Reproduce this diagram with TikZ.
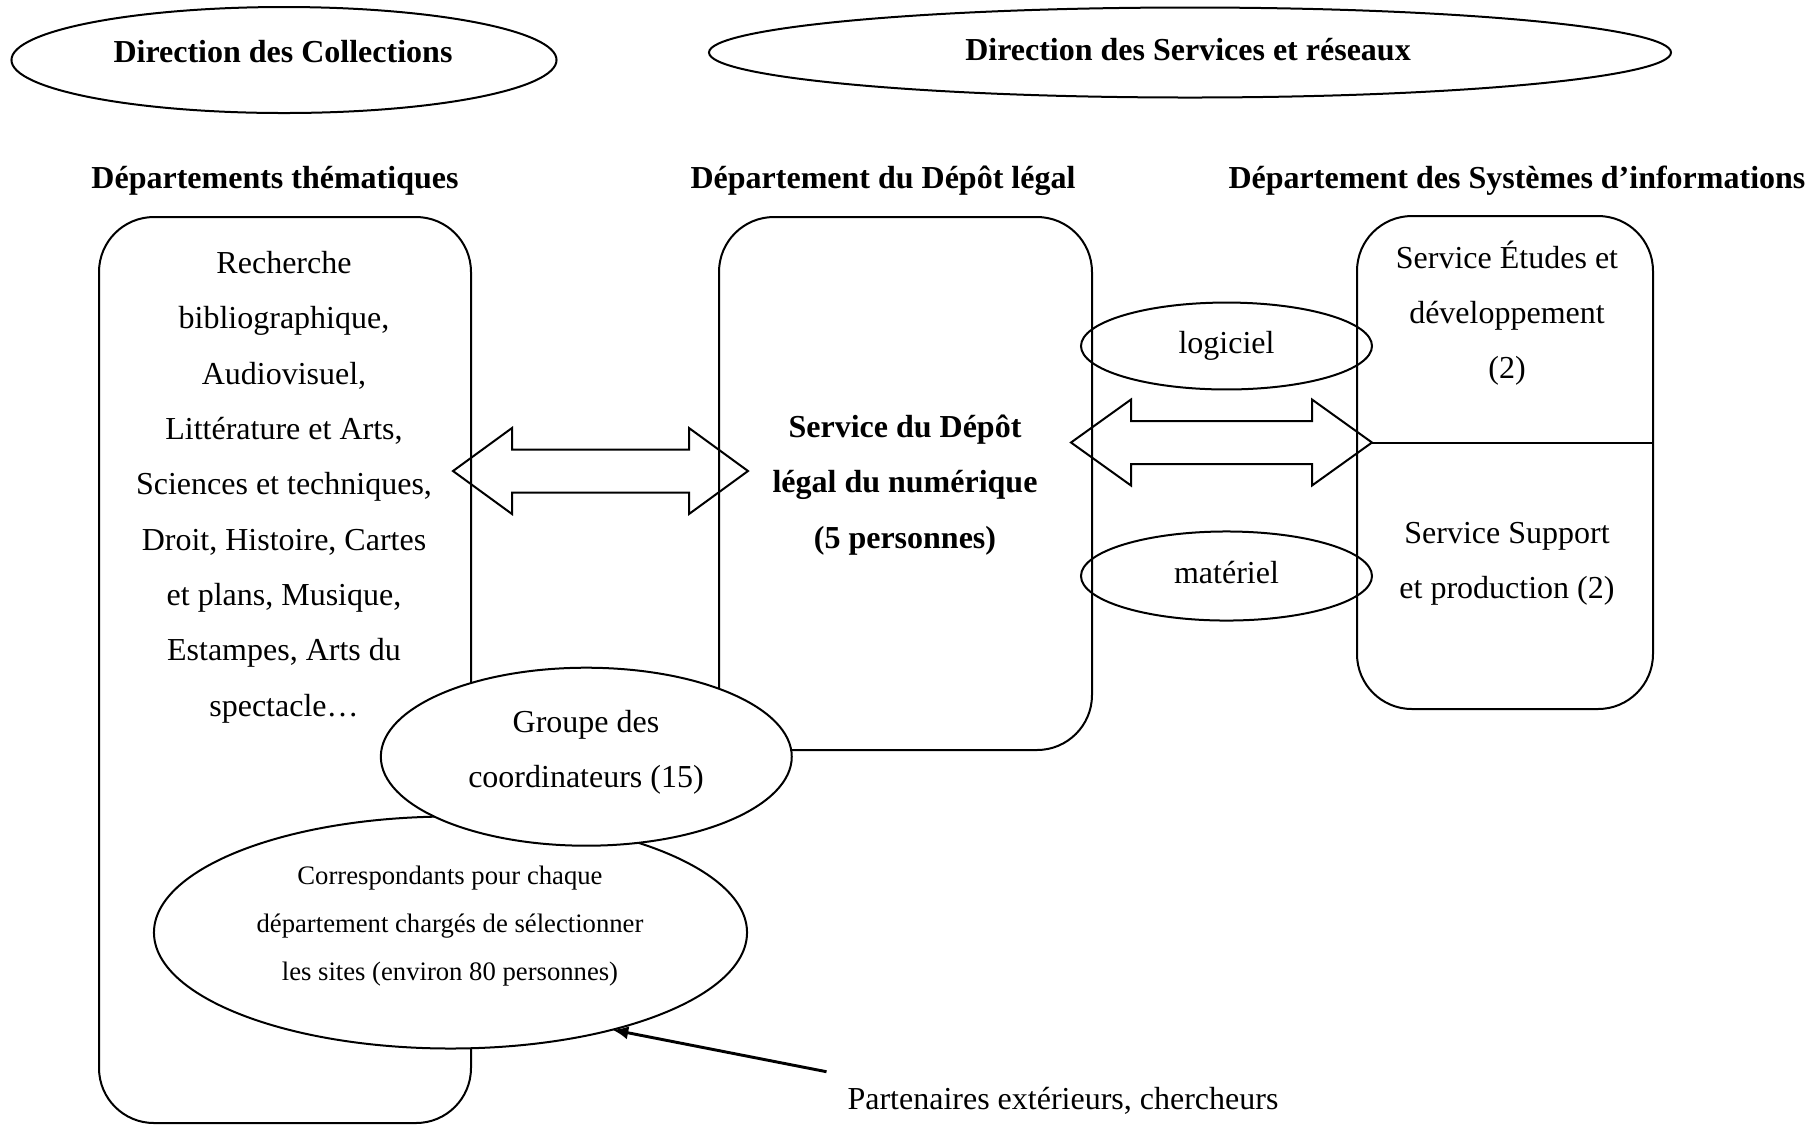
\documentclass[tikz,border=0pt]{standalone}
\usepackage{fontspec}
\setmainfont{Liberation Serif}
\usetikzlibrary{arrows.meta,shapes.geometric}
\begin{document}
\begin{tikzpicture}[x=0.375pt,y=-0.375pt,
  line width=0.75pt,
  txt/.style={font=\fontsize{12}{20.75}\selectfont, align=center, inner sep=0pt},
  btxt/.style={font=\fontsize{12}{20.75}\selectfont\bfseries, align=center, inner sep=0pt},
  stxt/.style={font=\fontsize{10}{18}\selectfont, align=center, inner sep=0pt},
  oval/.style={draw, ellipse, inner sep=0pt, outer sep=0pt},
  roundbox/.style={draw, rectangle, rounded corners=20.6pt, inner sep=0pt, outer sep=0pt},
]
\useasboundingbox (0,0) rectangle (1819,1124);

% top ellipses
\node[oval, minimum width=204.4pt, minimum height=39.75pt] (dcoll) at (284,60) {};
\node[oval, minimum width=360.75pt, minimum height=33.75pt] (dserv) at (1190,52.5) {};
\node[btxt] (dcollt) at (283,52) {Direction des Collections};
\node[btxt] (dservt) at (1188,50) {Direction des Services et réseaux};

% headings
\node[btxt] (h1) at (275,180.5) {Départements thématiques};
\node[btxt] (h2) at (883,180.5) {Département du Dépôt légal};
\node[btxt] (h3) at (1517,180.5) {Département des Systèmes d’informations};

% boxes
\node[roundbox, minimum width=139.5pt, minimum height=339.75pt] (lbox) at (285,670) {};
\node[roundbox, minimum width=139.875pt, minimum height=199.875pt] (mbox) at (905.5,483.5) {};
\node[roundbox, minimum width=111pt, minimum height=184.875pt] (rbox) at (1505,462.5) {};

% left double arrow
\draw (453,471) -- (512,428) -- (512,449.5) -- (689,449.5) -- (689,428) -- (748,471)
  -- (689,514) -- (689,492.5) -- (512,492.5) -- (512,514) -- cycle;
% right double arrow
\coordinate (rtip) at (1372,442.5);
\draw (1071,442.5) -- (1131,399.5) -- (1131,421) -- (1312,421) -- (1312,399.5) -- (rtip)
  -- (1312,485.5) -- (1312,464) -- (1131,464) -- (1131,485.5) -- cycle;
\draw (rtip) -- (rtip -| rbox.east);

% small ellipses
\node[oval, minimum width=109.125pt, minimum height=32.6pt, text height=8.1pt, text depth=2.6pt, font=\fontsize{12}{20.6}\selectfont] (logi) at (1226.5,346) {logiciel};
\node[oval, minimum width=109.125pt, minimum height=33.4pt, text height=8.1pt, text depth=2.6pt, font=\fontsize{12}{20.6}\selectfont] (mate) at (1226.5,576) {matériel};

% filled ellipses
\node[oval, fill=white, minimum width=222.4pt, minimum height=87pt] (corr) at (450.5,932.5) {};
\node[oval, fill=white, minimum width=154.1pt, minimum height=66.75pt] (grp) at (586.3,756.7) {};

% texts
\node[txt] (ltext) at (284,487) {Recherche\\bibliographique,\\Audiovisuel,\\Littérature et Arts,\\Sciences et techniques,\\Droit, Histoire, Cartes\\et plans, Musique,\\Estampes, Arts du\\spectacle…};
\node[btxt] (mtext) at (905,485) {Service du Dépôt\\légal du numérique\\(5 personnes)};
\node[txt] (rtext1) at (1507,313) {Service Études et\\développement\\(2)};
\node[txt] (rtext2) at (1507,564) {Service Support\\et production (2)};
\node[txt] (gtext) at (586,752.5) {Groupe des\\coordinateurs (15)};
\node[stxt] (ctext) at (450,926) {Correspondants pour chaque\\département chargés de sélectionner\\les sites (environ 80 personnes)};
\node[txt] (part) at (1063,1100.5) {Partenaires extérieurs, chercheurs};

% partner arrow
\coordinate (ptail) at (826.5,1071.7);
\draw[line width=1.1pt, -{Latex[length=6pt,width=5pt]}] (ptail) -- (corr.-31);
\end{tikzpicture}
\end{document}
